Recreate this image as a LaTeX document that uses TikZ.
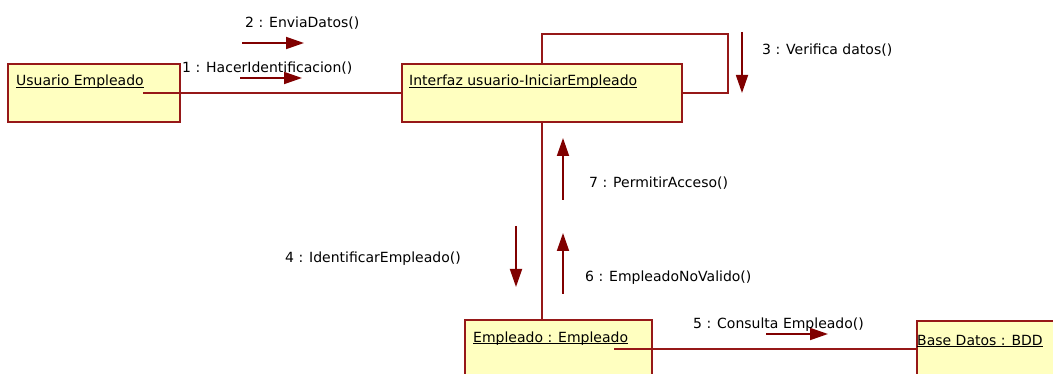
\documentclass[tikz,border=0pt]{standalone}
\usepackage{fontspec}
\setmainfont{DejaVu Sans}
\usepackage{xcolor}
\usepackage{tikz}
\usetikzlibrary{arrows.meta,positioning,calc}
\definecolor{umlred}{RGB}{128,0,0}
\definecolor{umlborder}{RGB}{150,24,24}
\definecolor{umlfill}{RGB}{255,255,192}
\newcommand{\objname}[1]{\setbox0\hbox{#1}\rlap{\rule[-2pt]{\wd0}{0.8pt}}\box0}

\begin{document}
\begin{tikzpicture}[x=1pt, y=-1pt,
    objbox/.style={draw=umlborder, fill=umlfill, line width=1.4pt, anchor=north west, inner sep=0pt, outer sep=0pt},
    cutbox/.style={fill=umlfill, anchor=north west, inner sep=0pt, outer sep=0pt},
    boxedge/.style={draw=umlborder, line width=1.4pt},
    objlabel/.style={anchor=base west, inner sep=0pt, font=\fontsize{14}{16}\selectfont},
    msglabel/.style={anchor=base west, inner sep=0pt, font=\fontsize{14}{16}\selectfont},
    link/.style={draw=umlborder, line width=1.4pt},
    msg/.style={draw=umlred, line width=1.8pt, -{Triangle[length=18pt,width=12pt]}}]
        \useasboundingbox (0,0) rectangle (1053,374);
        % Objects
        \node[objbox, minimum width=172pt, minimum height=58pt] (usuario) at (8,64) {};
        \node[objbox, minimum width=280pt, minimum height=58pt] (interfaz) at (402,64) {};
        \node[cutbox, minimum width=187pt, minimum height=54pt] (empleado) at (465,320) {};
        \node[cutbox, minimum width=136pt, minimum height=53pt] (base) at (917,321) {};
        \draw[boxedge] (empleado.south west) |- (empleado.north east) -- (empleado.south east);
        \draw[boxedge] (base.south west) |- (base.north east);
        \node[objlabel] (usuariolbl) at (16,86) {\objname{Usuario Empleado}};
        \node[objlabel] (interfazlbl) at (409,86) {\objname{Interfaz usuario-IniciarEmpleado}};
        \node[objlabel] (empleadolbl) at (473,342) {\objname{Empleado : Empleado}};
        \node[objlabel] (baselbl) at (917,345) {\objname{Base Datos : BDD}};

        % Links
        \coordinate (usuarioport) at (143,93);
        \coordinate (empleadoport) at (614,349);
        \draw[link] (usuarioport) -- (usuarioport -| interfaz.west);
        \draw[link] (interfaz.north) -- ++(0,-30) -| (728,93) -- (interfaz.east |- 0,93);
        \draw[link] (interfaz.south) -- (interfaz.south |- empleado.north);
        \draw[link] (empleadoport) -- (empleadoport -| base.west);

        % Messages
        \coordinate (m1s) at (240,78);  \coordinate (m1e) at (302,78);
        \coordinate (m2s) at (242,43);  \coordinate (m2e) at (304,43);
        \coordinate (m3s) at (742,32);  \coordinate (m3e) at (742,93);
        \coordinate (m4s) at (516,226); \coordinate (m4e) at (516,287);
        \coordinate (m5s) at (766,334); \coordinate (m5e) at (828,334);
        \coordinate (m6s) at (563,294); \coordinate (m6e) at (563,233);
        \coordinate (m7s) at (563,200); \coordinate (m7e) at (563,138);
        \draw[msg] (m1s) -- (m1e);
        \draw[msg] (m2s) -- (m2e);
        \draw[msg] (m3s) -- (m3e);
        \draw[msg] (m4s) -- (m4e);
        \draw[msg] (m5s) -- (m5e);
        \draw[msg] (m6s) -- (m6e);
        \draw[msg] (m7s) -- (m7e);
        \node[msglabel] (m1lbl) at (182,73) {1 : HacerIdentificacion()};
        \node[msglabel] (m2lbl) at (245,28) {2 : EnviaDatos()};
        \node[msglabel] (m3lbl) at (762,55) {3 : Verifica datos()};
        \node[msglabel] (m4lbl) at (285,263) {4 : IdentificarEmpleado()};
        \node[msglabel] (m5lbl) at (693,329) {5 : Consulta Empleado()};
        \node[msglabel] (m6lbl) at (585,282) {6 : EmpleadoNoValido()};
        \node[msglabel] (m7lbl) at (589,188) {7 : PermitirAcceso()};
    \end{tikzpicture}
\end{document}
